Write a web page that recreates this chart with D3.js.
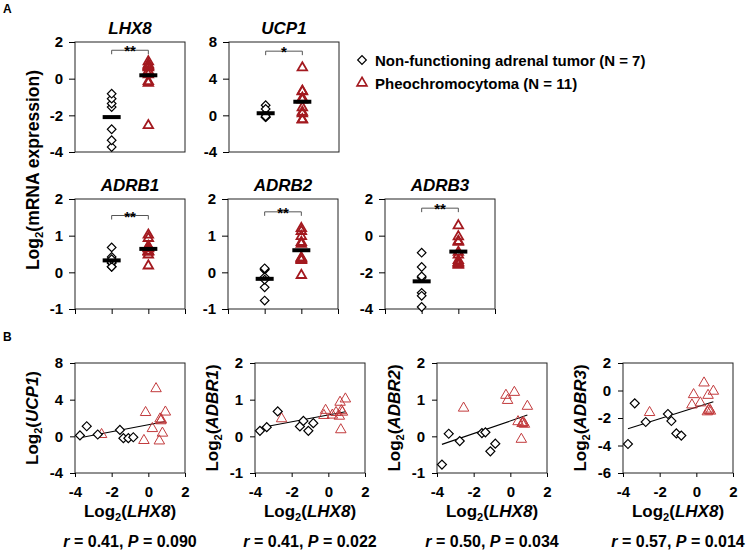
<!DOCTYPE html>
<html>
<head>
<meta charset="utf-8">
<script src="https://cdn.jsdelivr.net/npm/d3@7"></script>
<style>
body { margin: 0; background: #fff; }
text { font-family: "Liberation Sans", Arial, sans-serif; font-weight: bold; }
</style>
</head>
<body>
<svg></svg>
<script>
const W = 748, H = 551;
const pw = 110, ph = 110;
const darkRed = '#a3191f';
const lightRed = '#c23b3d';
const bracketColor = '#555';

// per-sample values, same sample order in panels A and B
const nfLHX8  = [-3.73, -3.36, -2.76, -1.55, -1.36, -1.09, -0.82];
const nfUCP1  = [0.1, 1.1, 0.2, 0.7, -0.2, -0.2, -0.1];
const nfADRB1 = [0.15, 0.25, 0.68, 0.27, 0.42, 0.15, 0.36];
const nfADRB2 = [-0.77, 0.07, -0.13, 0.09, 0.11, -0.41, -0.2];
const nfADRB3 = [-3.89, -0.93, -2.29, -1.71, -2.22, -3.12, -3.28];

const pcLHX8  = [-2.55, -0.15, -0.24, 0.42, 0.22, 0.64, 0.71, 0.60, 0.77, 0.93, 0.68];
const pcUCP1  = [0.2, 2.6, -0.45, 5.2, 0.85, 1.9, 1.8, -0.5, 0.35, 2.65, 1.7];
const pcADRB1 = [0.48, 0.71, 0.57, 0.65, 0.58, 0.93, 0.7, 0.55, 0.66, 1.02, 0.18];
const pcADRB2 = [0.77, 0.98, 1.12, 0.4, 1.2, 0.35, 0.38, -0.08, 0.33, 0.82, 0.36];
const pcADRB3 = [-1.6, -0.3, -1.05, 0.55, -0.9, -0.35, -1.35, -1.55, -1.5, -0.05, -1.45];

// panel A
const genesA = ['LHX8', 'UCP1', 'ADRB1', 'ADRB2', 'ADRB3'];
const nfA = [nfLHX8, nfUCP1, nfADRB1, nfADRB2, nfADRB3];
const pcA = [pcLHX8, pcUCP1, pcADRB1, pcADRB2, pcADRB3];
const ticksA = [[-4, -2, 0, 2], [-4, 0, 4, 8], [-1, 0, 1, 2], [-1, 0, 1, 2], [-4, -2, 0, 2]];
const bracketA = [1.55, 7.0, 1.55, 1.65, 1.5];
const starsA = ['**', '*', '**', '**', '**'];

// panel B (y labels as printed)
const labelsB = ['UCP1', 'ADBR1', 'ADBR2', 'ADBR3'];
const nfB = [nfUCP1, nfADRB1, nfADRB2, nfADRB3];
const pcB = [pcUCP1, pcADRB1, pcADRB2, pcADRB3];
const ticksB = [[-4, 0, 4, 8], [-1, 0, 1, 2], [-1, 0, 1, 2], [-6, -4, -2, 0, 2]];
const xTicksB = [-4, -2, 0, 2];
const rValues = ['0.41', '0.41', '0.50', '0.57'];
const pValues = ['0.090', '0.022', '0.034', '0.014'];

const legendLabels = ['Non-functioning adrenal tumor (N = 7)', 'Pheochromocytoma (N = 11)'];

// layout
const posA = [[75, 42], [229, 42], [75, 199], [228, 199], [385, 199]];
const posB = [[75, 363], [255, 363], [437, 363], [623, 363]];

const svg = d3.select('svg').attr('width', W).attr('height', H);

function diamond(sel, r){
	sel.append('path')
	.attr('d', d3.symbol(d3.symbolSquare).size(2*r*r)())
	.attr('transform', d => 'translate('+d[0]+','+d[1]+') rotate(45)')
	.style('fill', '#fff').style('stroke', '#000').style('stroke-width', 1.2);
}

function triangle(sel, w, color, sw){
	sel.append('path')
	.attr('d', d3.symbol(d3.symbolTriangle).size(0.433*w*w)())
	.attr('transform', d => 'translate('+d[0]+','+d[1]+')')
	.style('fill', 'none').style('stroke', color).style('stroke-width', sw);
}

function styleAxis(g){
	g.attr('font-size', 15).attr('font-family', '"Liberation Sans", Arial, sans-serif');
	g.select('.domain').remove();
	g.selectAll('.tick line').style('stroke', '#000');
	g.selectAll('.tick text').style('font-weight', 'bold').style('fill', '#000');
}

// "Log2(xxx)" with subscript
function logLabel(t, name, italic){
	t.append('tspan').text('Log');
	t.append('tspan').text('2').attr('font-size', '0.65em').attr('dy', 4);
	t.append('tspan').text('(').attr('dy', -4);
	t.append('tspan').text(name).style('font-style', italic ? 'italic' : 'normal');
	t.append('tspan').text(')');
}

function frame(g){
	g.append('rect').attr('x', 0).attr('y', 0).attr('width', pw).attr('height', ph)
	.style('fill', 'none').style('stroke', '#222').style('stroke-width', 1);
}

function drawA(i){
	const g = svg.append('g').attr('transform', 'translate('+posA[i][0]+','+posA[i][1]+')');
	const x = d3.scaleLinear().domain([0, 3]).range([0, pw]);
	const y = d3.scaleLinear().domain(d3.extent(ticksA[i])).range([ph, 0]);

	frame(g);
	g.append('g')
	.call(d3.axisLeft(y).tickValues(ticksA[i]).tickSize(6).tickPadding(6).tickFormat(d => String(d)))
	.call(styleAxis);
	if(i >= 2){
		g.append('g').attr('transform', 'translate(0,'+ph+')')
		.call(d3.axisBottom(x).tickValues([0, 1, 2, 3]).tickSize(5).tickFormat(''))
		.call(styleAxis);
	}

	g.append('text').attr('x', pw/2).attr('y', -8).attr('text-anchor', 'middle')
	.attr('font-size', 17).style('font-style', 'italic').text(genesA[i]);

	// significance bracket
	const by = y(bracketA[i]);
	g.append('path')
	.attr('d', 'M'+x(1)+','+(by+4)+'V'+by+'H'+x(2)+'V'+(by+4))
	.style('fill', 'none').style('stroke', bracketColor).style('stroke-width', 1);
	g.append('text').attr('x', (x(1)+x(2))/2).attr('y', by+6).attr('text-anchor', 'middle')
	.attr('font-size', 15).text(starsA[i]);

	diamond(g.append('g').selectAll('g').data(nfA[i].map(v => [x(1), y(v)])).enter().append('g'), 4.3);
	triangle(g.append('g').selectAll('g').data(pcA[i].map(v => [x(2), y(v)])).enter().append('g'), 9.5, darkRed, 1.8);

	// mean bars
	[[1, nfA[i]], [2, pcA[i]]].forEach(d => {
		g.append('rect').attr('x', x(d[0])-9).attr('y', y(d3.mean(d[1]))-2)
		.attr('width', 18).attr('height', 4).style('fill', '#000');
	});
}

function drawB(i){
	const g = svg.append('g').attr('transform', 'translate('+posB[i][0]+','+posB[i][1]+')');
	const x = d3.scaleLinear().domain([-4, 2]).range([0, pw]);
	const y = d3.scaleLinear().domain(d3.extent(ticksB[i])).range([ph, 0]);

	frame(g);
	g.append('g')
	.call(d3.axisLeft(y).tickValues(ticksB[i]).tickSize(5).tickPadding(7).tickFormat(d => String(d)))
	.call(styleAxis);
	g.append('g').attr('transform', 'translate(0,'+ph+')')
	.call(d3.axisBottom(x).tickValues(xTicksB).tickSize(4).tickPadding(9).tickFormat(d => String(d)))
	.call(styleAxis);

	// least squares fit over all samples
	const xs = nfLHX8.concat(pcLHX8);
	const ys = nfB[i].concat(pcB[i]);
	const mx = d3.mean(xs), my = d3.mean(ys);
	const slope = d3.sum(xs, (v, k) => (v-mx)*(ys[k]-my)) / d3.sum(xs, v => (v-mx)*(v-mx));
	const ends = d3.extent(xs);
	g.append('line')
	.attr('x1', x(ends[0])).attr('y1', y(my + slope*(ends[0]-mx)))
	.attr('x2', x(ends[1])).attr('y2', y(my + slope*(ends[1]-mx)))
	.style('stroke', '#000').style('stroke-width', 1.1);

	triangle(g.append('g').selectAll('g').data(pcB[i].map((v, k) => [x(pcLHX8[k]), y(v)])).enter().append('g'), 10.5, lightRed, 1);
	diamond(g.append('g').selectAll('g').data(nfB[i].map((v, k) => [x(nfLHX8[k]), y(v)])).enter().append('g'), 4.5);

	const yl = g.append('text').attr('text-anchor', 'middle').attr('font-size', 17)
	.attr('transform', 'translate(-37,'+(ph/2)+') rotate(-90)');
	logLabel(yl, labelsB[i], true);

	const xl = g.append('text').attr('text-anchor', 'middle').attr('font-size', 17)
	.attr('x', pw/2).attr('y', ph+44);
	logLabel(xl, 'LHX8', true);

	const rt = g.append('text').attr('text-anchor', 'middle').attr('font-size', 16)
	.attr('x', pw/2).attr('y', ph+74);
	rt.append('tspan').text('r').style('font-style', 'italic');
	rt.append('tspan').text(' = '+rValues[i]+', ');
	rt.append('tspan').text('P').style('font-style', 'italic');
	rt.append('tspan').text(' = '+pValues[i]);
}

genesA.forEach((d, i) => drawA(i));
labelsB.forEach((d, i) => drawB(i));

// shared y label for A
const ya = svg.append('text').attr('text-anchor', 'middle').attr('font-size', 17.5)
.attr('transform', 'translate(39,170) rotate(-90)');
logLabel(ya, 'mRNA expression', false);

// panel letters
svg.append('text').attr('x', 3).attr('y', 13).attr('font-size', 12).text('A');
svg.append('text').attr('x', 3).attr('y', 341).attr('font-size', 12).text('B');

// legend
const lg = svg.append('g').attr('transform', 'translate(362,60)');
diamond(lg.append('g').datum([0, 0]), 4.3);
triangle(lg.append('g').datum([0, 23]), 10, darkRed, 1.6);
lg.selectAll('text.legend').data(legendLabels).enter().append('text').classed('legend', true)
.attr('x', 13).attr('y', (d, i) => 5.5 + i*23)
.attr('font-size', 15).text(d => d);
</script>
</body>
</html>
